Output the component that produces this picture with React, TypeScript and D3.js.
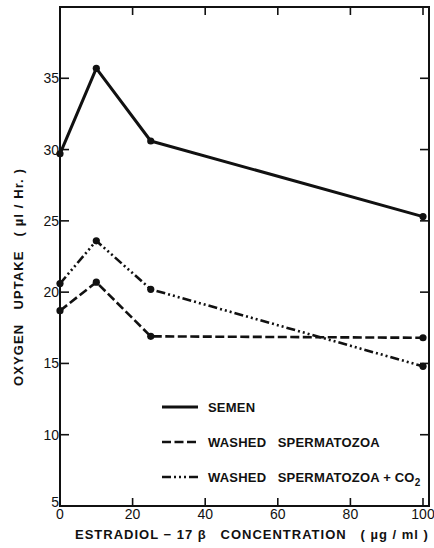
import * as d3 from "d3";

const concentrations = [0, 10, 25, 100];
const semen = [29.7, 35.7, 30.6, 25.3];
const washed = [18.7, 20.7, 16.9, 16.8];
const washedCO2 = [20.6, 23.6, 20.2, 14.8];
const xTicks = [0, 20, 40, 60, 80, 100];
const yTicks = [5, 10, 15, 20, 25, 30, 35];

const W = 434;
const H = 548;
const font = "'Liberation Sans', Arial, sans-serif";

const series = [
  { name: "SEMEN", values: semen, dash: "none", width: 3 },
  { name: "WASHED   SPERMATOZOA", values: washed, dash: "9,3.5", width: 2.6 },
  { name: "WASHED   SPERMATOZOA + CO", values: washedCO2, dash: "9,3,2,3,2,3,2,3", width: 2.6 },
];

export default function App() {
  const x = d3.scaleLinear().domain([0, 100]).range([60, 423]);
  const y = d3.scaleLinear().domain([5, 40]).range([506, 7]);
  const frameRight = 429;

  const line = d3
    .line<number>()
    .x((_, i) => x(concentrations[i]))
    .y((d) => y(d));

  const legendY = [407, 442, 477];

  return (
    <svg
      width={W}
      height={H}
      style={{ position: "absolute", left: 0, top: 0, background: "#fff" }}
      fontFamily={font}
    >
      <rect x={0} y={0} width={W} height={H} fill="#fff" />
      {/* frame */}
      <rect
        x={x(0)}
        y={y(40)}
        width={frameRight - x(0)}
        height={y(5) - y(40)}
        fill="none"
        stroke="#111"
        strokeWidth={2}
      />
      {/* x ticks, bottom and top, pointing inward */}
      {xTicks.slice(1).map((t) => (
        <g key={"xt" + t}>
          <line x1={x(t)} x2={x(t)} y1={y(5)} y2={y(5) - 8} stroke="#111" strokeWidth={1.6} />
          <line x1={x(t)} x2={x(t)} y1={y(40)} y2={y(40) + 8} stroke="#111" strokeWidth={1.6} />
        </g>
      ))}
      {xTicks.map((t) => (
        <text
          key={"xl" + t}
          x={x(t)}
          y={519}
          textAnchor="middle"
          fontSize={14}
          fill="#111"
        >
          {t}
        </text>
      ))}
      {/* y ticks, left and right */}
      {yTicks.slice(1).map((t) => (
        <g key={"yt" + t}>
          <line x1={x(0)} x2={x(0) + 9} y1={y(t)} y2={y(t)} stroke="#111" strokeWidth={1.6} />
          <line x1={frameRight} x2={frameRight - 9} y1={y(t)} y2={y(t)} stroke="#111" strokeWidth={1.6} />
        </g>
      ))}
      {yTicks.map((t) => (
        <text
          key={"yl" + t}
          x={59}
          y={t === 5 ? y(t) - 4 : y(t)}
          dy="0.36em"
          textAnchor="end"
          fontSize={14}
          fill="#111"
        >
          {t}
        </text>
      ))}
      {/* series */}
      {series.map((s) => (
        <g key={s.name}>
          <path
            d={line(s.values) ?? ""}
            fill="none"
            stroke="#111"
            strokeWidth={s.width}
            strokeDasharray={s.dash}
            strokeLinejoin="round"
          />
          {s.values.map((v, i) => (
            <circle key={i} cx={x(concentrations[i])} cy={y(v)} r={3.6} fill="#111" />
          ))}
        </g>
      ))}
      {/* legend */}
      {series.map((s, i) => (
        <g key={"lg" + i}>
          <line
            x1={162}
            x2={198}
            y1={legendY[i]}
            y2={legendY[i]}
            stroke="#111"
            strokeWidth={s.width}
            strokeDasharray={s.dash}
          />
          <text
            x={208}
            y={legendY[i] + 5}
            fontSize={13}
            fontWeight="bold"
            letterSpacing={0.2}
            fill="#111"
            style={{ whiteSpace: "pre" }}
          >
            {s.name}
            {i === 2 && (
              <tspan fontSize={10} dy={4}>
                2
              </tspan>
            )}
          </text>
        </g>
      ))}
      {/* axis titles */}
      <text
        x={75}
        y={539}
        fontSize={13}
        fontWeight="bold"
        letterSpacing={1}
        fill="#111"
        style={{ whiteSpace: "pre" }}
      >
        {"ESTRADIOL − 17 β   CONCENTRATION   ( µg / ml )"}
      </text>
      <text
        transform={`translate(23, 277) rotate(-90)`}
        textAnchor="middle"
        fontSize={13}
        fontWeight="bold"
        letterSpacing={1.1}
        fill="#111"
        style={{ whiteSpace: "pre" }}
      >
        {"OXYGEN   UPTAKE   ( µl / Hr. )"}
      </text>
    </svg>
  );
}
